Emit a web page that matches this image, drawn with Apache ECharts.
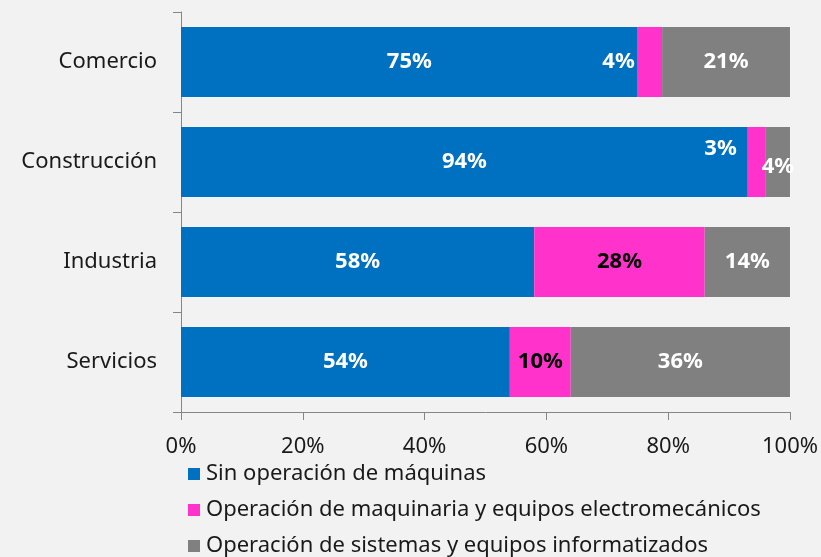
<!DOCTYPE html>
<html>
<head>
<meta charset="utf-8">
<script src="https://cdn.jsdelivr.net/npm/echarts@6/dist/echarts.min.js"></script>
<style>
  html, body { margin: 0; padding: 0; background: #f2f2f2; }
  #chart { width: 821px; height: 557px; }
</style>
</head>
<body>
<div id="chart"></div>
<script>
const categories = ['Comercio', 'Construcción', 'Industria', 'Servicios']
const seriesNames = [
  'Sin operación de máquinas',
  'Operación de maquinaria y equipos electromecánicos',
  'Operación de sistemas y equipos informatizados'
]
const sinMaquinas = [75, 94, 58, 54]
const maquinaria = [4, 3, 28, 10]
const informatizados = [21, 4, 14, 36]
const xTicks = [0, 20, 40, 60, 80, 100]

const raw = [sinMaquinas, maquinaria, informatizados]
const totals = categories.map((c, i) => raw.reduce((s, arr) => s + arr[i], 0))
const colors = ['#0070c0', '#ff33cc', '#808080']
const font = '"Noto Sans", sans-serif'

// label tweaks (small segments)
const labelOverrides = {
  '1-0': { position: 'left', distance: 3, color: '#fff' },
  '1-1': { position: 'left', distance: 11, offset: [0, -13], color: '#fff' },
  '2-1': { position: 'inside', offset: [0, 5] }
}

const series = raw.map((arr, si) => ({
  name: seriesNames[si],
  type: 'bar',
  stack: 'total',
  barCategoryGap: '30%',
  itemStyle: { color: colors[si] },
  label: {
    show: true,
    position: 'inside',
    color: si === 1 ? '#000' : '#fff',
    fontWeight: 'bold',
    fontSize: 22,
    fontFamily: font,
    formatter: p => p.data.raw + '%'
  },
  data: arr.map((v, i) => {
    const d = { value: v / totals[i] * 100, raw: v }
    const ov = labelOverrides[si + '-' + i]
    if (ov) d.label = ov
    return d
  })
}))

const myChart = echarts.init(document.getElementById('chart'))
myChart.setOption({
  backgroundColor: '#f2f2f2',
  animation: false,
  grid: { left: 181, right: 31, top: 12, bottom: 145 },
  legend: {
    orient: 'vertical',
    left: 188,
    top: 463,
    height: 94,
    padding: 0,
    icon: 'rect',
    itemWidth: 12,
    itemHeight: 12,
    itemGap: 14,
    selectedMode: false,
    textStyle: { fontSize: 22, lineHeight: 22, color: '#1a1a1a', fontFamily: font, padding: [0, 0, 0, 1] },
    data: seriesNames
  },
  xAxis: {
    type: 'value',
    min: 0,
    max: 100,
    interval: 20,
    splitLine: { show: false },
    axisLine: { show: true, lineStyle: { color: '#868686' } },
    axisTick: { show: true, length: 8, lineStyle: { color: '#868686' } },
    axisLabel: {
      formatter: v => xTicks.indexOf(v) >= 0 ? v + '%' : '',
      margin: 24,
      fontSize: 22,
      color: '#1a1a1a',
      fontFamily: font
    }
  },
  yAxis: {
    type: 'category',
    inverse: true,
    data: categories,
    axisLine: { show: true, lineStyle: { color: '#868686' } },
    axisTick: { show: true, length: 8, lineStyle: { color: '#868686' } },
    axisLabel: { margin: 24, fontSize: 22, color: '#1a1a1a', fontFamily: font }
  },
  series: series
})
</script>
</body>
</html>
